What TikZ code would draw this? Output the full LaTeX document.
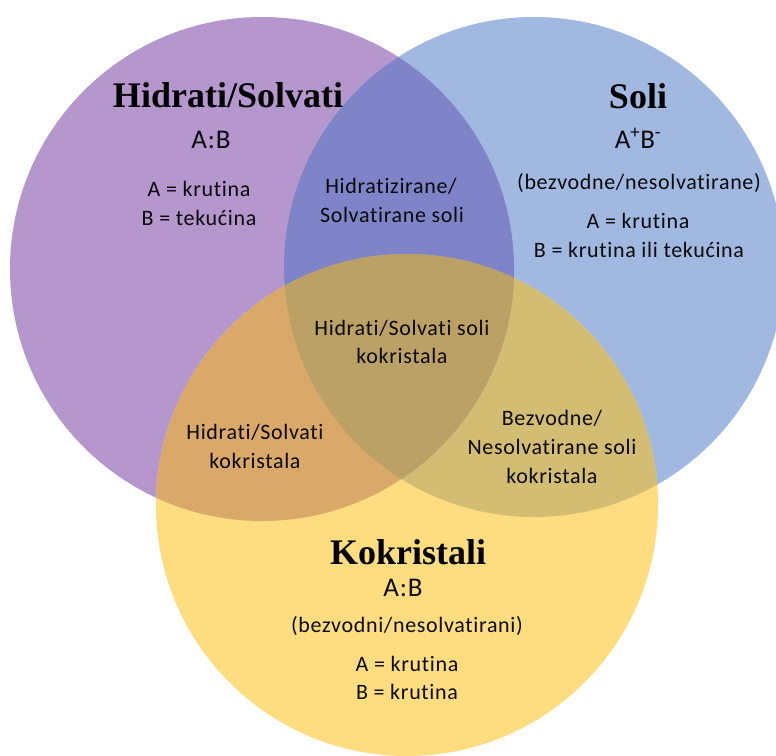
\documentclass[tikz,border=0pt]{standalone}
\usepackage{fontspec}
\newfontfamily\bodyfont[LetterSpace=3,Ligatures={NoCommon,NoDiscretionary,NoContextual}]{Carlito}
\newfontfamily\titlefont{Liberation Serif}
\definecolor{cP}{HTML}{B596CD}
\definecolor{cB}{HTML}{A1B9E1}
\definecolor{cY}{HTML}{FEDD81}
\definecolor{cPB}{HTML}{7E84C7}
\definecolor{cPY}{HTML}{DAA969}
\definecolor{cBY}{HTML}{D2BD73}
\definecolor{cPBY}{HTML}{BCA167}
\definecolor{txt}{HTML}{0A0A0A}
\begin{document}
\begin{tikzpicture}[x=1pt,y=-1pt,
  title/.style={font=\titlefont\bfseries\fontsize{36}{40}\selectfont, anchor=base, inner sep=0pt, text=black},
  body/.style={font=\bodyfont\fontsize{22}{26}\selectfont, anchor=base, inner sep=0pt, text=txt},
  big/.style={font=\bodyfont\fontsize{27}{30}\selectfont, anchor=base, inner sep=0pt, text=txt}]
\useasboundingbox (0,0) rectangle (776,755);
\clip (0,0) rectangle (776,755);
\fill[white] (0,0) rectangle (776,755);
% circles
\fill[cP] (262,269) circle (252pt);
\fill[cB] (534,267) circle (250pt);
\fill[cY] (407,505) circle (251pt);
\begin{scope}
  \clip (534,267) circle (250pt);
  \fill[cBY] (407,505) circle (251pt);
\end{scope}
\begin{scope}
  \clip (262,269) circle (252pt);
  \fill[cPB] (534,267) circle (250pt);
  \fill[cPY] (407,505) circle (251pt);
  \clip (534,267) circle (250pt);
  \fill[cPBY] (407,505) circle (251pt);
\end{scope}
% Hidrati/Solvati
\node[title] (t1) at (228,107) {Hidrati/Solvati};
\node[big] (t1f) at (211,148) {A:B};
\node[body] (t1a) at (199,196) {A = krutina};
\node[body] (t1b) at (199,225) {B = tekućina};
% Soli
\node[title] (t2) at (638,108) {Soli};
\node[big] (t2f) at (638,148) {A\textsuperscript{+}B\textsuperscript{-}};
\node[body] (t2p) at (639,189) {(bezvodne/nesolvatirane)};
\node[body] (t2a) at (638,228) {A = krutina};
\node[body] (t2b) at (639,257) {B = krutina ili tekućina};
% overlaps
\node[body] (pb1) at (391,193) {Hidratizirane/};
\node[body] (pb2) at (392,222) {Solvatirane soli};
\node[body] (c1) at (402,335) {Hidrati/Solvati soli};
\node[body] (c2) at (402,363) {kokristala};
\node[body] (py1) at (255,439) {Hidrati/Solvati};
\node[body] (py2) at (255,468) {kokristala};
\node[body] (by1) at (552,425) {Bezvodne/};
\node[body] (by2) at (552,454) {Nesolvatirane soli};
\node[body] (by3) at (552,483) {kokristala};
% Kokristali
\node[title] (t3) at (408,564) {Kokristali};
\node[big] (t3f) at (403,596) {A:B};
\node[body] (t3p) at (407,632) {(bezvodni/nesolvatirani)};
\node[body] (t3a) at (407,671) {A = krutina};
\node[body] (t3b) at (407,699) {B = krutina};
\end{tikzpicture}
\end{document}
